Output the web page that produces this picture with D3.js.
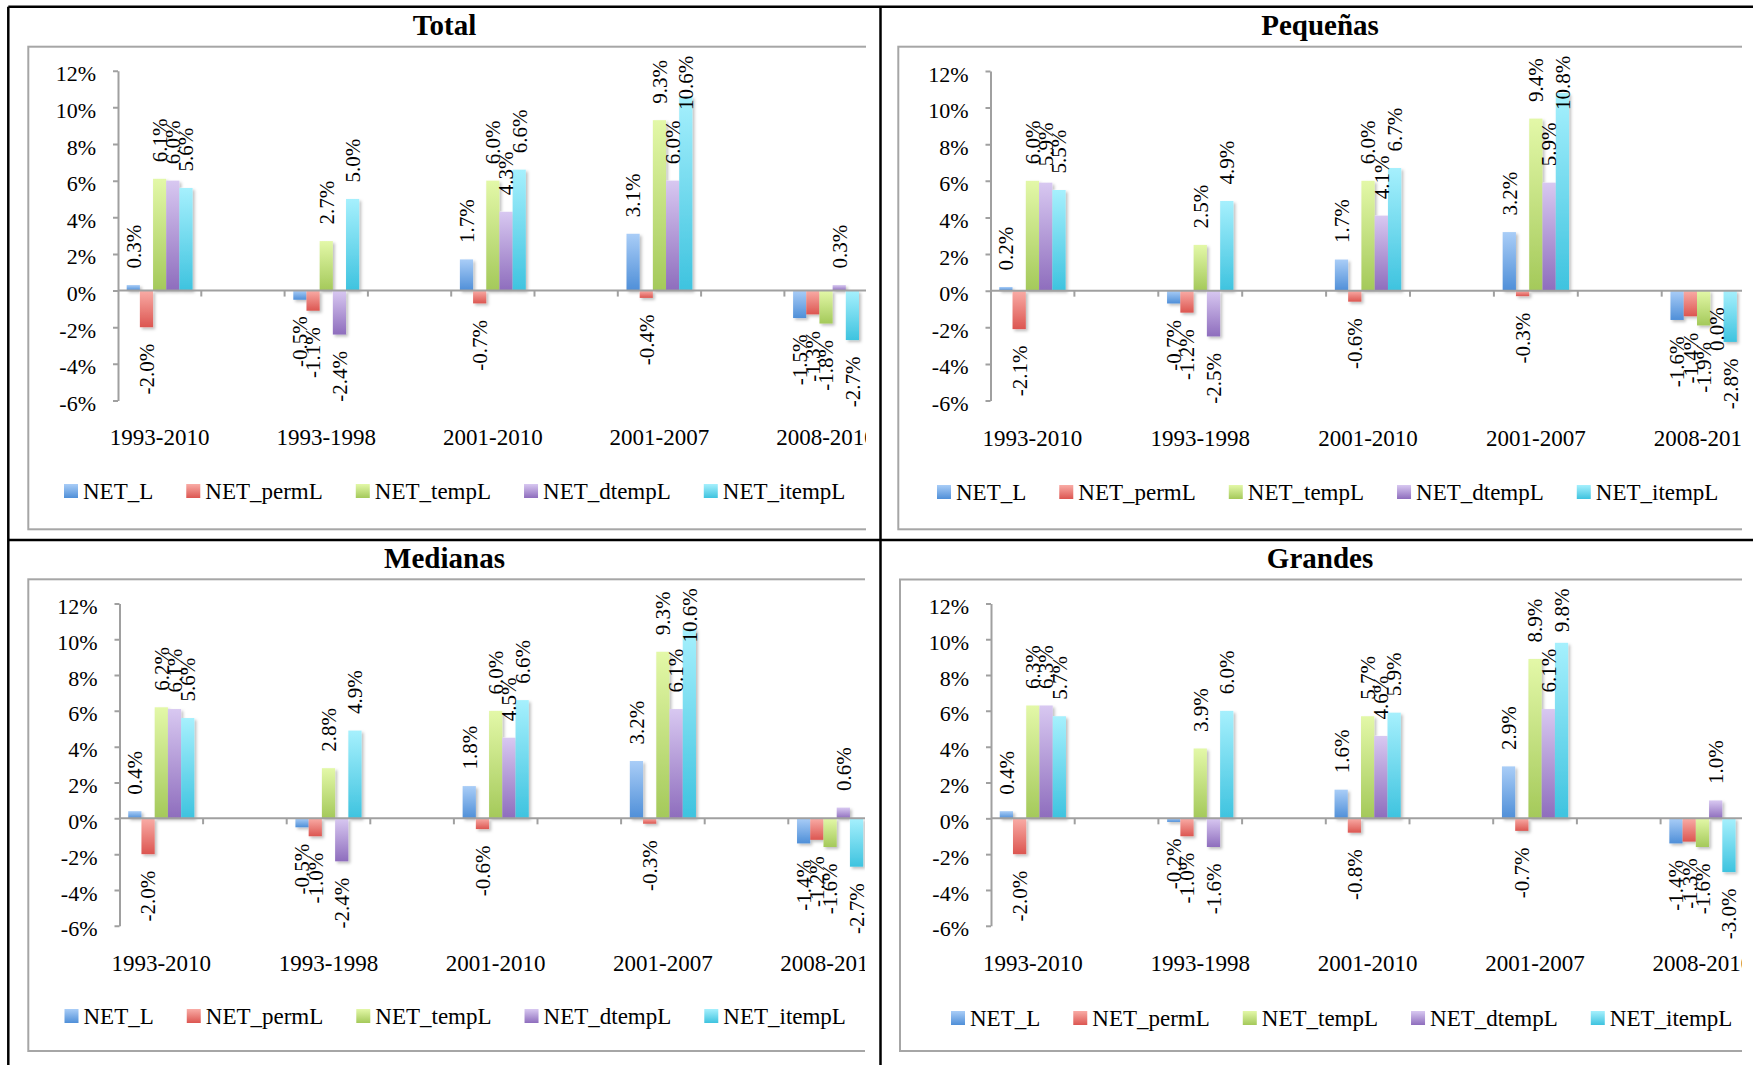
<!DOCTYPE html>
<html>
<head>
<meta charset="utf-8">
<script src="https://cdn.jsdelivr.net/npm/d3@7"></script>
<style>
  html, body { margin: 0; padding: 0; background: #fff; }
  svg { display: block; }
</style>
</head>
<body>
<svg id="chart" width="1753" height="1065"></svg>
<script>
// ---- data ----
const series = ["NET_L", "NET_permL", "NET_tempL", "NET_dtempL", "NET_itempL"];
const periods = ["1993-2010", "1993-1998", "2001-2010", "2001-2007", "2008-2010"];
const tickValues = [-6, -4, -2, 0, 2, 4, 6, 8, 10, 12];
const panelTitles = ["Total", "Pequeñas", "Medianas", "Grandes"];

// net employment growth (%) per period, one row per period in series order
const totalValues = [
  [0.3, -2.0, 6.1, 6.0, 5.6],
  [-0.5, -1.1, 2.7, -2.4, 5.0],
  [1.7, -0.7, 6.0, 4.3, 6.6],
  [3.1, -0.4, 9.3, 6.0, 10.6],
  [-1.5, -1.3, -1.8, 0.3, -2.7]
];
const pequenasValues = [
  [0.2, -2.1, 6.0, 5.9, 5.5],
  [-0.7, -1.2, 2.5, -2.5, 4.9],
  [1.7, -0.6, 6.0, 4.1, 6.7],
  [3.2, -0.3, 9.4, 5.9, 10.8],
  [-1.6, -1.4, -1.9, 0.0, -2.8]
];
const medianasValues = [
  [0.4, -2.0, 6.2, 6.1, 5.6],
  [-0.5, -1.0, 2.8, -2.4, 4.9],
  [1.8, -0.6, 6.0, 4.5, 6.6],
  [3.2, -0.3, 9.3, 6.1, 10.6],
  [-1.4, -1.2, -1.6, 0.6, -2.7]
];
const grandesValues = [
  [0.4, -2.0, 6.3, 6.3, 5.7],
  [-0.2, -1.0, 3.9, -1.6, 6.0],
  [1.6, -0.8, 5.7, 4.6, 5.9],
  [2.9, -0.7, 8.9, 6.1, 9.8],
  [-1.4, -1.3, -1.6, 1.0, -3.0]
];

// ---- styling ----
const seriesColors = [
  ["#a9cdf7", "#4f8fd8"],
  ["#f9aca6", "#dc5651"],
  ["#e3f8a8", "#a4c95a"],
  ["#d8c8f1", "#8e6dbd"],
  ["#a6f0fd", "#3ec3df"]
];
const serif = "'Liberation Serif', 'Times New Roman', serif";

// one layout per cell of the 2x2 grid
const layouts = [
  { titleX: 444.5, titleY: 25,    frameX: 28.3,  frameY: 46.7,  frameBottom: 529.3, clipRight: 866,
    axisX: 118,   yTop: 70.7,  yBottom: 400.5, catY: 437,   legendX: 64,   legendY: 491,  slot: 83.3 },
  { titleX: 1320,  titleY: 25,    frameX: 898.3, frameY: 46.7,  frameBottom: 529.3, clipRight: 1742,
    axisX: 990.5, yTop: 71,    yBottom: 400.5, catY: 438,   legendX: 937,  legendY: 492,  slot: 83.9 },
  { titleX: 444.5, titleY: 558,   frameX: 28.3,  frameY: 579.3, frameBottom: 1051,  clipRight: 865,
    axisX: 119.5, yTop: 603.4, yBottom: 925.8, catY: 963,   legendX: 64.5, legendY: 1016, slot: 83.6 },
  { titleX: 1320,  titleY: 557.5, frameX: 900,   frameY: 579.5, frameBottom: 1051,  clipRight: 1742,
    axisX: 991,   yTop: 603.4, yBottom: 925.8, catY: 963.3, legendX: 951,  legendY: 1018, slot: 83.7 }
];
const panelValues = [totalValues, pequenasValues, medianasValues, grandesValues];

const svg = d3.select("#chart");
const defs = svg.append("defs");

seriesColors.forEach((c, i) => {
  const g = defs.append("linearGradient").attr("id", "grad" + i)
    .attr("x1", 0).attr("y1", 0).attr("x2", 0).attr("y2", 1);
  g.append("stop").attr("offset", "0%").attr("stop-color", c[0]);
  g.append("stop").attr("offset", "100%").attr("stop-color", c[1]);
});

defs.append("filter").attr("id", "shadow")
  .attr("x", "-50%").attr("y", "-50%").attr("width", "200%").attr("height", "200%")
  .append("feDropShadow")
  .attr("dx", 2).attr("dy", 2).attr("stdDeviation", 1.8)
  .attr("flood-color", "#000").attr("flood-opacity", 0.25);

// category slots: each period is followed by an empty slot
const slots = periods.flatMap((p, i) => [p, "gap" + i]);

function drawPanel(idx) {
  const L = layouts[idx];
  const values = panelValues[idx];
  const root = svg.append("g");

  // title
  root.append("text")
    .attr("x", L.titleX).attr("y", L.titleY).attr("dy", "0.35em")
    .attr("text-anchor", "middle")
    .style("font-family", serif).style("font-weight", "bold").style("font-size", "29px")
    .text(panelTitles[idx]);

  const clipId = "clip" + idx;
  defs.append("clipPath").attr("id", clipId)
    .append("rect")
    .attr("x", L.frameX - 3).attr("y", L.frameY - 3)
    .attr("width", L.clipRight - L.frameX + 3)
    .attr("height", L.frameBottom - L.frameY + 6);

  const g = root.append("g").attr("clip-path", "url(#" + clipId + ")");

  // chart-area frame (its right side runs past the clip)
  g.append("rect")
    .attr("x", L.frameX).attr("y", L.frameY)
    .attr("width", L.clipRight - L.frameX + 40)
    .attr("height", L.frameBottom - L.frameY)
    .attr("fill", "none").attr("stroke", "#a6a6a6").attr("stroke-width", 2);

  const y = d3.scaleLinear().domain([-6, 12]).range([L.yBottom, L.yTop]);
  const x0 = d3.scaleBand().domain(slots)
    .range([L.axisX, L.axisX + L.slot * slots.length]);
  const x1 = d3.scaleBand().domain(series)
    .range([0, x0.bandwidth()]).paddingInner(0).paddingOuter(0.66);

  // y axis
  const yAxis = g.append("g").attr("transform", `translate(${L.axisX},0)`)
    .call(d3.axisLeft(y).tickValues(tickValues).tickSize(5).tickSizeOuter(0)
      .tickPadding(17).tickFormat(d => d + "%"));
  yAxis.select(".domain").attr("stroke", "#a0a0a0").attr("stroke-width", 2);
  yAxis.selectAll(".tick line").attr("stroke", "#a0a0a0").attr("stroke-width", 2);
  yAxis.selectAll(".tick text")
    .attr("fill", "#000").attr("y", 3)
    .style("font-family", serif).style("font-size", "22px");

  const zeroY = y(0);

  // bars
  periods.forEach((p, i) => {
    const grp = g.append("g").attr("filter", "url(#shadow)");
    series.forEach((s, j) => {
      const v = values[i][j];
      grp.append("rect")
        .attr("x", x0(p) + x1(s))
        .attr("y", y(Math.max(v, 0)))
        .attr("width", x1.bandwidth())
        .attr("height", Math.abs(y(v) - y(0)))
        .attr("fill", "url(#grad" + j + ")");
    });
  });

  // category axis: zero line with ticks at slot boundaries
  const xEnd = L.axisX + L.slot * slots.length;
  g.append("line")
    .attr("x1", L.axisX).attr("x2", xEnd)
    .attr("y1", zeroY).attr("y2", zeroY)
    .attr("stroke", "#a0a0a0").attr("stroke-width", 2);
  slots.forEach(s => {
    const bx = x0(s) + x0.bandwidth();
    g.append("line")
      .attr("x1", bx).attr("x2", bx)
      .attr("y1", zeroY).attr("y2", zeroY + 6)
      .attr("stroke", "#a0a0a0").attr("stroke-width", 2);
  });

  // category labels
  periods.forEach(p => {
    g.append("text")
      .attr("x", x0(p) + x0.bandwidth() / 2).attr("y", L.catY).attr("dy", "0.35em")
      .attr("text-anchor", "middle")
      .style("font-family", serif).style("font-size", "23px")
      .text(p);
  });

  // data labels, rotated, outside the bar end
  const gap = 16.5;
  periods.forEach((p, i) => {
    series.forEach((s, j) => {
      const v = values[i][j];
      const cx = x0(p) + x1(s) + x1.bandwidth() / 2;
      const t = g.append("text")
        .attr("dy", "0.35em")
        .style("font-family", serif).style("font-size", "21px")
        .text(v.toFixed(1) + "%");
      let ly;
      if (v > 0) {
        ly = y(v) - gap;
        const len = t.node().getComputedTextLength();
        const minStart = L.frameY + 9 + len;
        if (ly < minStart) ly = minStart;
        t.attr("text-anchor", "start");
      } else {
        ly = y(v) + gap;
        t.attr("text-anchor", "end");
      }
      t.attr("x", cx).attr("y", ly)
        .attr("transform", `rotate(-90,${cx},${ly})`);
    });
  });

  // legend
  let lx = L.legendX;
  series.forEach((s, j) => {
    root.append("rect")
      .attr("x", lx).attr("y", L.legendY - 7)
      .attr("width", 14).attr("height", 14)
      .attr("fill", "url(#grad" + j + ")");
    const t = root.append("text")
      .attr("x", lx + 19).attr("y", L.legendY).attr("dy", "0.35em")
      .style("font-family", serif).style("font-size", "23px")
      .text(s);
    lx += 19 + t.node().getComputedTextLength() + 33;
  });
}

layouts.forEach((_, i) => drawPanel(i));

// table borders around the grid
const borders = svg.append("g").attr("stroke", "#000").attr("stroke-width", 2.5);
borders.append("line").attr("x1", 8.3).attr("x2", 1753).attr("y1", 6.7).attr("y2", 6.7);
borders.append("line").attr("x1", 8.3).attr("x2", 8.3).attr("y1", 6.7).attr("y2", 1065);
borders.append("line").attr("x1", 880.5).attr("x2", 880.5).attr("y1", 6.7).attr("y2", 1065);
borders.append("line").attr("x1", 8.3).attr("x2", 1753).attr("y1", 540).attr("y2", 540);
</script>
</body>
</html>
